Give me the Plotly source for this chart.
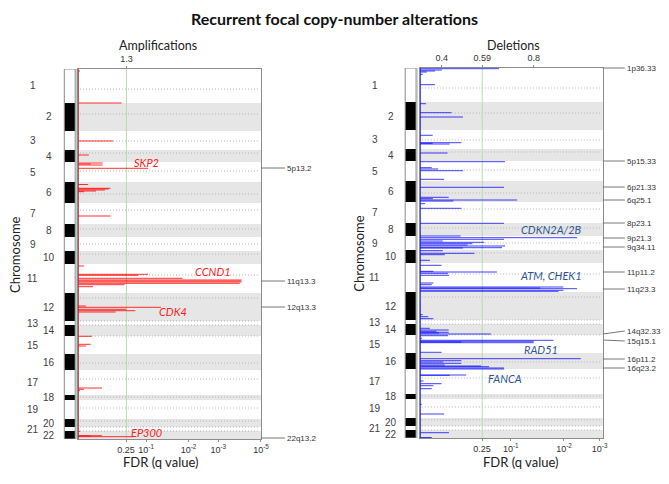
import plotly.graph_objects as go

W, H = 669, 484
OFF = 8  # default page body margin compensation

# ---------------- data ----------------
CHROMS = [str(i) for i in range(1, 23)]
CHROM_SIZES = [34, 28, 19, 12, 20, 21, 21, 13, 14, 13, 29, 28, 4, 11, 18, 16, 25, 5, 19, 8, 4, 8]
CENTROMERES = [20, 45, 72, 84, 102, 125, 141, 160, 175, 185, 206, 229, 252, 256, 267, 294, 310, 328, 339, 352, 358, 362]

# Amplifications: genome position (display units) and G-score
AMP_POS = [2, 34, 72, 86, 94, 95, 96, 99.3, 115.5, 119.3, 120, 121, 122, 122.7, 147, 197,
           205.3, 206.3, 209.3, 211, 212, 213, 214.3, 215.7, 217.7, 237, 238.3, 240.3, 241.7, 243,
           267.3, 275.3, 277, 319, 320.3, 321.7, 362.3, 366.7, 367, 367.7]
AMP_SCORE = [0.05, 1.17, 0.94, 0.29, 0.66, 0.34, 0.66, 1.88, 0.27, 0.87, 0.82, 0.72, 0.48, 0.16, 0.87, 0.16,
             1.88, 1.62, 2.81, 4.40, 4.38, 4.40, 4.35, 1.25, 0.40, 0.21, 2.23, 1.30, 1.54, 1.01,
             0.37, 0.34, 0.21, 0.64, 0.16, 0.05, 0.05, 0.64, 0.34, 1.49]

# Deletions
DEL_POS = [0.7, 2, 3, 4, 6.3, 16.7, 35.7, 44.7, 49, 67.3, 74.7, 75.3, 76, 85, 93.7, 99.7, 101, 102.7, 111.3,
           119.3, 129.3, 130.7, 132, 133, 135.7, 140.3, 155.3, 168, 169.7, 171.3, 173, 174.3, 175.7, 177, 178,
           179.7, 180, 182.7, 185.3, 186.7, 192.3, 197.3, 203.3, 204, 205.3, 207.3, 215, 216.7, 219, 220,
           220.7, 222.3, 223.3, 246.7, 248.7, 250.7, 260.3, 262, 263.3, 264.3, 265, 266, 267.7, 270.3, 272.3,
           273.3, 274, 274.7, 284.3, 290.7, 292.7, 294, 295.3, 297, 298, 298.7, 300, 301, 307, 307.3, 313,
           315.7, 317.7, 320.7, 336.3, 346, 364.7, 369.5]
DEL_SCORE = [0.649, 0.400, 0.370, 0.335, 0.317, 0.370, 0.331, 0.442, 0.492, 0.360, 0.485, 0.360, 0.434, 0.425,
             0.675, 0.356, 0.384, 0.492, 0.410, 0.671, 0.430, 0.361, 0.728, 0.450, 0.327, 0.485, 0.671, 0.482,
             0.989, 0.671, 0.404, 0.585, 0.533, 0.512, 0.675, 0.662, 0.492, 0.404, 0.542, 0.413, 0.348, 0.399,
             0.363, 0.640, 0.427, 0.431, 0.363, 0.356, 0.929, 0.829, 0.989, 0.929, 0.908, 0.317, 0.341, 0.363,
             0.348, 0.430, 0.377, 0.430, 0.388, 0.614, 0.427, 0.313, 0.886, 0.800, 0.485, 0.800, 0.399, 1.005,
             0.485, 0.406, 0.485, 0.413, 0.571, 0.606, 0.671, 0.671, 0.506, 0.434, 0.320, 0.399, 0.363, 0.356,
             0.313, 0.410, 0.431, 0.356]

AMP_RANGE = [0.0, 4.92]
DEL_RANGE = [0.305, 1.101]
AMP_THRESH = 1.30
DEL_THRESH = 0.576

AMP_TOP_TICKS = [1.30]
AMP_TOP_LABELS = ["1.3"]
DEL_TOP_TICKS = [0.40, 0.576, 0.80]
DEL_TOP_LABELS = ["0.4", "0.59", "0.8"]

AMP_Q_TICKS = [1.29, 1.83, 2.97, 3.77, 4.92]
DEL_Q_TICKS = [0.575, 0.700, 0.932, 1.087]
AMP_Q_LABELS = ["0.25", "10<sup>-1</sup>", "10<sup>-2</sup>", "10<sup>-3</sup>", "10<sup>-5</sup>"]
DEL_Q_LABELS = ["0.25", "10<sup>-1</sup>", "10<sup>-2</sup>", "10<sup>-3</sup>"]

AMP_PEAKS = ["5p13.2", "11q13.3", "12q13.3", "22q13.2"]
AMP_PEAK_POS = [99, 212, 238, 369]
DEL_PEAKS = ["1p36.33", "5p15.33", "6p21.33", "6q25.1", "8p23.1", "9p21.3", "9q34.11", "11p11.2",
             "11q23.3", "14q32.33", "15q15.1", "16p11.2", "16q23.2"]
DEL_PEAK_POS = [0, 93, 119, 132, 155, 170, 179, 204, 221, 266, 272, 291, 300]
DEL_PEAK_SHIFT = [0, 0, 0, 0, 0, 0, 0, 0, 0, -3, 1, 0, 0]

AMP_GENES = ["SKP2", "CCND1", "CDK4", "EP300"]
AMP_GENE_X = [1.83, 3.63, 2.56, 1.83]
AMP_GENE_Y = [93, 202, 242, 363]
DEL_GENES = ["CDKN2A/2B", "ATM, CHEK1", "RAD51", "FANCA"]
DEL_GENE_X = [0.877, 0.877, 0.830, 0.675]
DEL_GENE_Y = [161, 207, 281, 310]

# ---------------- helpers ----------------
def px(x):
    return (x - OFF) / W

def py(y):
    return 1 - (y - OFF) / H

starts = []
acc = 0
for s in CHROM_SIZES:
    starts.append(acc)
    acc += s
TOTAL = acc

LEFT = dict(x0=79, x1=264, y0=69, y1=439, ideo=(65, 76), odd=33, even=50, title_x=15, fdr_x=163)
RIGHT = dict(x0=425, x1=610, y0=68, y1=438, ideo=(410, 421), odd=379, even=396, title_x=363, fdr_x=527)

fig = go.Figure()

def segs(pos, score, base):
    xs, ys = [], []
    for p, s in zip(pos, score):
        xs += [base, s, None]
        ys += [p, p, None]
    return xs, ys

ax_, ay_ = segs(AMP_POS, AMP_SCORE, AMP_RANGE[0])
fig.add_trace(go.Scatter(x=ax_, y=ay_, mode="lines", line=dict(color="rgba(255,0,0,0.8)", width=1),
                         xaxis="x", yaxis="y", hoverinfo="skip", showlegend=False))
dx_, dy_ = segs(DEL_POS, DEL_SCORE, DEL_RANGE[0])
fig.add_trace(go.Scatter(x=dx_, y=dy_, mode="lines", line=dict(color="rgba(0,0,255,0.75)", width=1),
                         xaxis="x2", yaxis="y2", hoverinfo="skip", showlegend=False))
# baselines
fig.add_trace(go.Scatter(x=[AMP_RANGE[0], AMP_RANGE[0]], y=[0, TOTAL], mode="lines",
                         line=dict(color="#a5272c", width=1.5), xaxis="x", yaxis="y",
                         hoverinfo="skip", showlegend=False))
fig.add_trace(go.Scatter(x=[DEL_RANGE[0], DEL_RANGE[0]], y=[0, TOTAL], mode="lines",
                         line=dict(color="#1f1fe0", width=1.5), xaxis="x2", yaxis="y2",
                         hoverinfo="skip", showlegend=False))
# dummy traces for top axes
fig.add_trace(go.Scatter(x=[None], y=[None], xaxis="x3", yaxis="y", showlegend=False))
fig.add_trace(go.Scatter(x=[None], y=[None], xaxis="x4", yaxis="y2", showlegend=False))

shapes = []
annotations = []

def text(t, x, y, size, color="#222", family="Lato", angle=0):
    annotations.append(dict(text=t, xref="paper", yref="paper", x=px(x), y=py(y), xanchor="center",
                            yanchor="middle", showarrow=False, textangle=angle,
                            font=dict(size=size, color=color, family=family)))

def panel(P, xref, yref, thresh):
    dom = xref + " domain"
    for i, (st, sz) in enumerate(zip(starts, CHROM_SIZES)):
        if i % 2 == 1:
            shapes.append(dict(type="rect", xref=dom, x0=0, x1=1, yref=yref, y0=st, y1=st + sz,
                               fillcolor="#e6e6e6", line=dict(width=0), layer="below"))
    for c in CENTROMERES:
        shapes.append(dict(type="line", xref=dom, x0=0.01, x1=0.99, yref=yref, y0=c, y1=c,
                           line=dict(color="#b4b4b4", width=1, dash="1px,2px"), layer="below"))
    shapes.append(dict(type="line", xref=xref, x0=thresh, x1=thresh, yref=yref + " domain", y0=0, y1=1,
                       line=dict(color="#b9dcae", width=1), layer="below"))
    # ideogram
    i0, i1 = P["ideo"]
    for i, (st, sz) in enumerate(zip(starts, CHROM_SIZES)):
        shapes.append(dict(type="rect", xref="paper", x0=px(i0), x1=px(i1), yref=yref, y0=st, y1=st + sz,
                           fillcolor="black" if i % 2 == 1 else "white", line=dict(width=0)))
    shapes.append(dict(type="rect", xref="paper", x0=px(i0), x1=px(i1), yref=yref, y0=0, y1=TOTAL,
                       line=dict(color="#8c8c8c", width=1)))
    shapes.append(dict(type="line", xref="paper", x0=px(i1 + 1), x1=px(i1 + 1), yref=yref, y0=0, y1=TOTAL,
                       line=dict(color="#b0b0b0", width=1)))
    # chromosome labels
    for i, (st, sz) in enumerate(zip(starts, CHROM_SIZES)):
        xx = P["odd"] if i % 2 == 0 else P["even"]
        annotations.append(dict(text=CHROMS[i], xref="paper", yref=yref, x=px(xx), y=st + sz / 2,
                                xanchor="center", yanchor="middle", showarrow=False,
                                font=dict(size=10, color="#404040", family="Liberation Sans")))
    text("Chromosome", P["title_x"], (P["y0"] + P["y1"]) / 2, 13, angle=-90)
    text("FDR (q value)", P["fdr_x"], 462, 13)

panel(LEFT, "x", "y", AMP_THRESH)
panel(RIGHT, "x2", "y2", DEL_THRESH)

for name, pos in zip(AMP_PEAKS, AMP_PEAK_POS):
    annotations.append(dict(text=name, xref="x", yref="y", x=AMP_RANGE[1], y=pos, showarrow=True,
                            arrowhead=0, arrowwidth=1, arrowcolor="#777", ax=24, ay=0, xanchor="left",
                            yanchor="middle", font=dict(size=8, color="#333", family="Liberation Sans")))
for name, pos, sh in zip(DEL_PEAKS, DEL_PEAK_POS, DEL_PEAK_SHIFT):
    annotations.append(dict(text=name, xref="x2", yref="y2", x=DEL_RANGE[1], y=pos, showarrow=True,
                            arrowhead=0, arrowwidth=1, arrowcolor="#777", ax=22, ay=sh, xanchor="left",
                            yanchor="middle", font=dict(size=8, color="#333", family="Liberation Sans")))
for g, gx, gy in zip(AMP_GENES, AMP_GENE_X, AMP_GENE_Y):
    annotations.append(dict(text="<i>%s</i>" % g, xref="x", yref="y", x=gx, y=gy, showarrow=False,
                            xanchor="center", yanchor="middle",
                            font=dict(size=11, color="#ff2020", family="Lato")))
for g, gx, gy in zip(DEL_GENES, DEL_GENE_X, DEL_GENE_Y):
    annotations.append(dict(text="<i>%s</i>" % g, xref="x2", yref="y2", x=gx, y=gy, showarrow=False,
                            xanchor="center", yanchor="middle",
                            font=dict(size=11, color="#2f5597", family="Lato")))

text("<b>Recurrent focal copy-number alterations</b>", 338, 18, 16, color="#111")
text("Amplifications", 160, 46, 12.5)
text("Deletions", 520, 46, 12.5)

axis_common = dict(showgrid=False, zeroline=False, showline=True, mirror=True, linecolor="#8c8c8c",
                   linewidth=1)
bottom_common = dict(ticks="outside", ticklen=2, tickcolor="#8c8c8c",
                     tickfont=dict(size=9, color="#333", family="Liberation Sans"))
top_common = dict(side="top", ticks="outside", ticklen=2, tickcolor="#8c8c8c", showgrid=False,
                  zeroline=False, showline=False,
                  tickfont=dict(size=9, color="#333", family="Liberation Sans"))

fig.update_layout(
    width=W, height=H, margin=dict(l=0, r=0, t=0, b=0),
    paper_bgcolor="white", plot_bgcolor="white", showlegend=False,
    xaxis=dict(domain=[px(LEFT["x0"]), px(LEFT["x1"])], range=AMP_RANGE, anchor="y",
               tickvals=AMP_Q_TICKS, ticktext=AMP_Q_LABELS, **axis_common, **bottom_common),
    yaxis=dict(domain=[py(LEFT["y1"]), py(LEFT["y0"])], range=[TOTAL, 0], anchor="x",
               showticklabels=False, ticks="", **axis_common),
    xaxis2=dict(domain=[px(RIGHT["x0"]), px(RIGHT["x1"])], range=DEL_RANGE, anchor="y2",
                tickvals=DEL_Q_TICKS, ticktext=DEL_Q_LABELS, **axis_common, **bottom_common),
    yaxis2=dict(domain=[py(RIGHT["y1"]), py(RIGHT["y0"])], range=[TOTAL, 0], anchor="x2",
                showticklabels=False, ticks="", **axis_common),
    xaxis3=dict(overlaying="x", anchor="y", range=AMP_RANGE, tickvals=AMP_TOP_TICKS,
                ticktext=AMP_TOP_LABELS, **top_common),
    xaxis4=dict(overlaying="x2", anchor="y2", range=DEL_RANGE, tickvals=DEL_TOP_TICKS,
                ticktext=DEL_TOP_LABELS, **top_common),
    shapes=shapes, annotations=annotations,
)

fig.write_html("out.html")
